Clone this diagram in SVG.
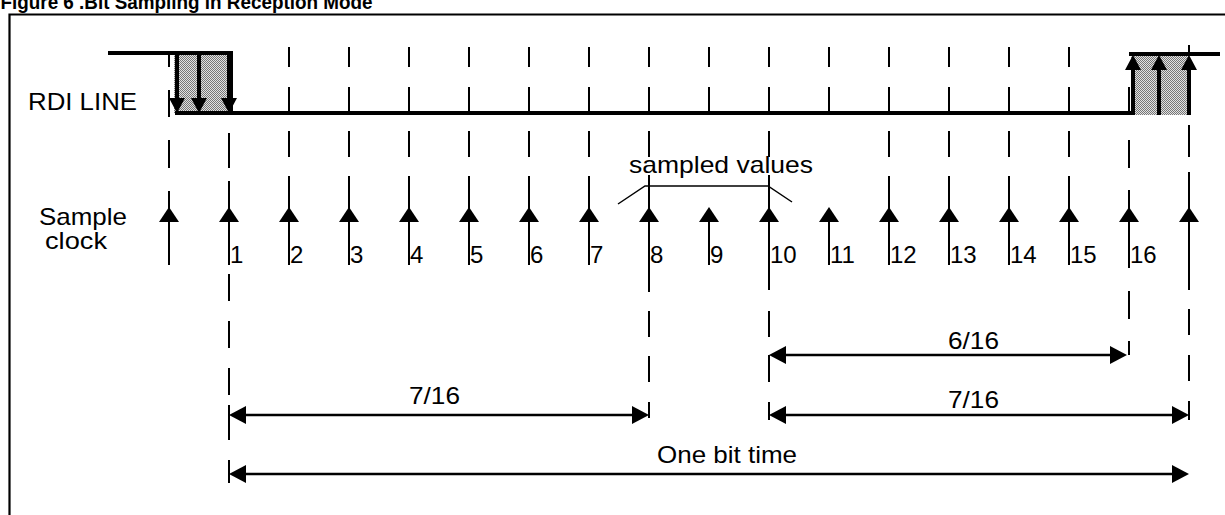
<svg xmlns="http://www.w3.org/2000/svg" xmlns:xlink="http://www.w3.org/1999/xlink" width="1225" height="515" viewBox="0 0 1225 515">
<style>
text{font-family:"Liberation Sans",Arial,sans-serif;fill:#000}
.lbl{font-size:24px}
.num{font-size:24px}
.title{font-size:20px;font-weight:bold}
.guide{stroke:#000;stroke-width:2;fill:none}
.wave{stroke:#000;stroke-width:4;fill:none}
.dim{stroke:#000;stroke-width:2.5;fill:none}
.thin{stroke:#000;stroke-width:1.5;fill:none}
.head{fill:#000;stroke:none}
</style>
<defs>
<pattern id="stip" width="2" height="2" patternUnits="userSpaceOnUse">
<rect width="2" height="2" fill="#e2e2e2"/>
<rect width="1" height="1" fill="#777"/>
<rect x="1" y="1" width="1" height="1" fill="#777"/>
</pattern>
<path id="clk" class="head" d="M0 0L-10 15L10 15Z"/>
<path id="dn" class="head" d="M0 0L-8 -15L8 -15Z"/>
<path id="up" class="head" d="M0 0L-8 15L8 15Z"/>
<path id="dl" class="head" d="M0 0L17 -9L17 9Z"/>
<path id="dr" class="head" d="M0 0L-17 -9L-17 9Z"/>
</defs>
<rect width="1225" height="515" fill="#fff"/>
<g id="title"><text class="title" x="0.5" y="9" textLength="372" lengthAdjust="spacingAndGlyphs">Figure 6 .Bit Sampling in Reception Mode</text></g>
<g id="frame"><path d="M9.5 520V14.5H1230" stroke="#000" stroke-width="2.2" fill="none"/></g>
<g id="rdi-line">
<text class="lbl" x="28" y="110" textLength="109" lengthAdjust="spacingAndGlyphs">RDI LINE</text>
<rect x="174" y="53" width="55" height="60" fill="url(#stip)"/>
<rect x="1131" y="54" width="58" height="61" fill="url(#stip)"/>
<path class="wave" d="M108 53H231V113M175 113H1131"/>
<path class="wave" d="M1129 54H1220"/>
<path class="wave" d="M177 53V98M199 53V98M229 53V98"/>
<use href="#dn" x="177" y="113"/><use href="#dn" x="199" y="113"/><use href="#dn" x="229" y="113"/>
<path class="wave" d="M1133 69V115M1159 69V115M1189 69V115"/>
<use href="#up" x="1133" y="55"/><use href="#up" x="1159" y="55"/><use href="#up" x="1189" y="55"/>
</g>
<g id="sample-clock">
<text class="lbl" x="39" y="225" textLength="88" lengthAdjust="spacingAndGlyphs">Sample</text>
<text class="lbl" x="45" y="249" textLength="62" lengthAdjust="spacingAndGlyphs">clock</text>
<use href="#clk" x="169" y="207"/><use href="#clk" x="229" y="207"/><use href="#clk" x="289" y="207"/>
<use href="#clk" x="349" y="207"/><use href="#clk" x="409" y="207"/><use href="#clk" x="469" y="207"/>
<use href="#clk" x="529" y="207"/><use href="#clk" x="589" y="207"/><use href="#clk" x="649" y="207"/>
<use href="#clk" x="709" y="207"/><use href="#clk" x="769" y="207"/><use href="#clk" x="829" y="207"/>
<use href="#clk" x="889" y="207"/><use href="#clk" x="949" y="207"/><use href="#clk" x="1009" y="207"/>
<use href="#clk" x="1069" y="207"/><use href="#clk" x="1129" y="207"/><use href="#clk" x="1189" y="207"/>
<g class="num">
<text x="230" y="263">1</text><text x="290" y="263">2</text><text x="350" y="263">3</text>
<text x="410" y="263">4</text><text x="470" y="263">5</text><text x="530" y="263">6</text>
<text x="590" y="263">7</text><text x="650" y="263">8</text><text x="710" y="263">9</text>
<text x="770" y="263">10</text><text x="830" y="263">11</text><text x="890" y="263">12</text>
<text x="950" y="263">13</text><text x="1010" y="263">14</text><text x="1070" y="263">15</text>
<text x="1130" y="263">16</text>
</g>
</g>
<g id="sampled-values">
<text class="lbl" x="629" y="173" textLength="184" lengthAdjust="spacingAndGlyphs">sampled values</text>
<path class="thin" d="M618 204L645 186H768L792 202"/>
</g>
<g id="connectors">
<path class="guide" d="M169 55V67M169 90V117M169 140V168M169 191V265"/>
<path class="guide" d="M229 133V168M229 181V265M229 274V301M229 321V348M229 368V395M229 405V440M229 460V483"/>
<path class="guide" d="M289 47V67M289 87V112M289 131V157M289 176V265"/>
<path class="guide" d="M349 47V67M349 87V112M349 131V157M349 176V265"/>
<path class="guide" d="M409 47V67M409 87V112M409 131V157M409 176V265"/>
<path class="guide" d="M469 47V67M469 87V112M469 131V157M469 176V265"/>
<path class="guide" d="M529 47V67M529 87V112M529 131V157M529 176V265"/>
<path class="guide" d="M589 47V67M589 87V112M589 131V157M589 176V265"/>
<path class="guide" d="M649 47V67M649 87V112M649 131V157M649 175V292M649 311V337M649 356V382M649 402V418"/>
<path class="guide" d="M709 47V67M709 87V112M709 215V265"/>
<path class="guide" d="M769 47V67M769 87V112M769 131V157M769 175V290M769 311V337M769 355V382M769 402V420"/>
<path class="guide" d="M829 47V67M829 87V112M829 215V265"/>
<path class="guide" d="M889 47V67M889 87V112M889 131V157M889 176V265"/>
<path class="guide" d="M949 47V67M949 87V112M949 131V157M949 176V265"/>
<path class="guide" d="M1009 47V67M1009 87V112M1009 131V157M1009 176V265"/>
<path class="guide" d="M1069 47V67M1069 87V112M1069 131V157M1069 176V265"/>
<path class="guide" d="M1129 87V115M1129 140V168M1129 190V268M1129 291V319M1129 341V355"/>
<path class="guide" d="M1189 45V55M1189 125V157M1189 172V290M1189 309V335M1189 355V381M1189 401V420"/>
<path class="dim" d="M780 355H1116"/><use href="#dl" x="769" y="355"/><use href="#dr" x="1127" y="355"/>
<path class="dim" d="M240 415H638"/><use href="#dl" x="229" y="415"/><use href="#dr" x="649" y="415"/>
<path class="dim" d="M780 415H1178"/><use href="#dl" x="769" y="415"/><use href="#dr" x="1189" y="415"/>
<path class="dim" d="M240 474H1178"/><use href="#dl" x="229" y="474"/><use href="#dr" x="1189" y="474"/>
</g>
<g id="dim-labels" class="lbl">
<text x="973.5" y="349" text-anchor="middle" textLength="51" lengthAdjust="spacingAndGlyphs">6/16</text>
<text x="434.5" y="404" text-anchor="middle" textLength="51" lengthAdjust="spacingAndGlyphs">7/16</text>
<text x="973.5" y="408" text-anchor="middle" textLength="51" lengthAdjust="spacingAndGlyphs">7/16</text>
<text x="727" y="463" text-anchor="middle" textLength="140" lengthAdjust="spacingAndGlyphs">One bit time</text>
</g>
</svg>
